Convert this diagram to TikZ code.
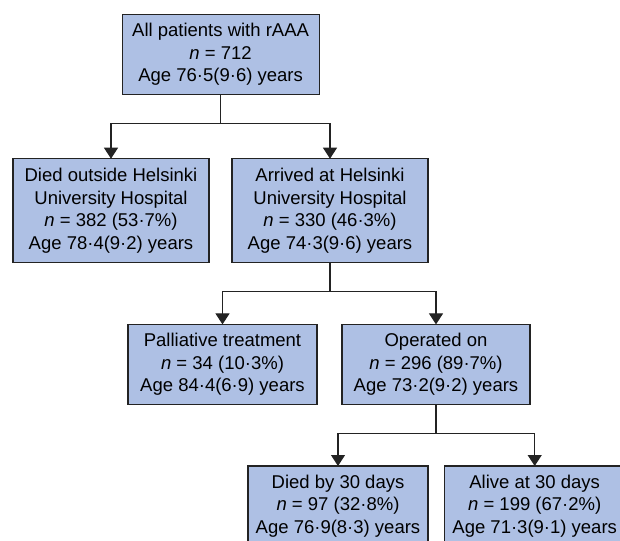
\documentclass[tikz,border=0pt]{standalone}
\usepackage{fontspec}
\setmainfont{Liberation Sans}
\usepackage{tikz}
\usetikzlibrary{arrows.meta,calc,positioning}
\definecolor{boxblue}{RGB}{174,192,228}
\definecolor{linegray}{RGB}{35,35,35}
\newdimen\hdim
\newdimen\wdim
\newdimen\odim
\hdim=80pt
\wdim=188pt
\odim=29pt
\tikzstyle{element}=[
  draw=linegray,
  fill=boxblue,
  font={\fontsize{18.5}{22.5}\selectfont},
  inner sep=0pt,
  minimum height=\hdim,
  minimum width=\wdim,
  outer sep=0pt,
  rectangle,
  align=center,
  line width=1.1pt,
]
\tikzstyle{tallelement}=[
  element,
  minimum height=\hdim+24pt,
  minimum width=\wdim+8pt,
]
\tikzstyle{arrow}=[
  color=linegray,
  draw=linegray,
  line width=1.1pt,
]
\tikzset{
  >={Triangle[width=14pt,length=11pt]},
}

\begin{document}
\begin{tikzpicture}
     \useasboundingbox (0,0) rectangle (620pt,-540pt);
     \clip (0,0) rectangle (620pt,-540pt);
     \node (allpatients) [element, minimum width=\wdim+9pt] at (220.6pt,-54.7pt)
       {All patients with rAAA\\ \textit{n} = 712\\ Age 76·5(9·6) years};
     \coordinate [below=\odim of allpatients] (A);
     %%
     \node (diedoutside) [tallelement] at (111pt,-210.7pt)
       {Died outside Helsinki\\ University Hospital\\ \textit{n} = 382 (53·7\%)\\ Age 78·4(9·2) years};
     \node (arrived) [tallelement] at (330pt,-210.7pt)
       {Arrived at Helsinki\\ University Hospital\\ \textit{n} = 330 (46·3\%)\\ Age 74·3(9·6) years};
     \coordinate [below=\odim of arrived] (B);
     %%
     \node (palliative) [element, minimum width=\wdim+1pt] at (222.5pt,-364.4pt)
       {Palliative treatment\\ \textit{n} = 34 (10·3\%)\\ Age 84·4(6·9) years};
     \node (operated) [element] at (436pt,-364.4pt)
       {Operated on\\ \textit{n} = 296 (89·7\%)\\ Age 73·2(9·2) years};
     \coordinate [below=\odim of operated] (C);
     %%
     \node (died30) [element, minimum width=\wdim-8pt] at (338pt,-506pt)
       {Died by 30 days\\ \textit{n} = 97 (32·8\%)\\ Age 76·9(8·3) years};
     \node (alive30) [element, minimum width=\wdim-7pt] at (534.7pt,-506pt)
       {Alive at 30 days\\ \textit{n} = 199 (67·2\%)\\ Age 71·3(9·1) years};
     %%
     \draw [->, arrow] (allpatients.south) -- (A) -| (diedoutside.north);
     \draw [->, arrow] (A) -| (arrived.north);
     \draw [->, arrow] (arrived.south) -- (B) -| (palliative.north);
     \draw [->, arrow] (B) -| (operated.north);
     \draw [->, arrow] (operated.south) -- (C) -| (died30.north);
     \draw [->, arrow] (C) -| (alive30.north);
   \end{tikzpicture}
\end{document}
